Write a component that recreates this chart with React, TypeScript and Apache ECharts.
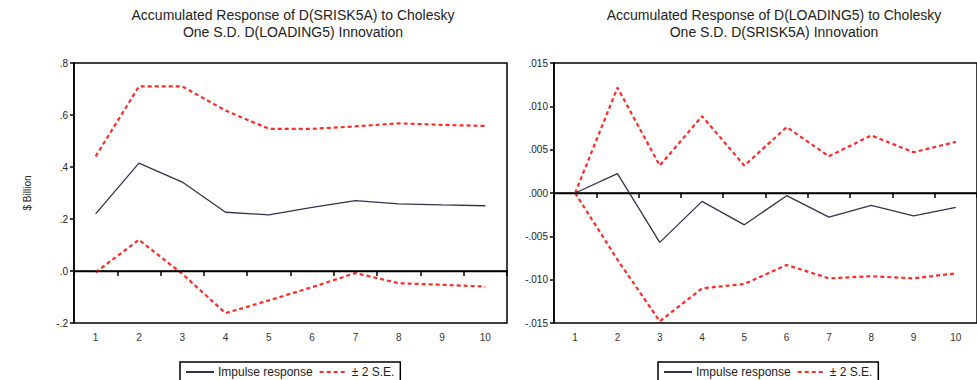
import React, { useEffect, useRef } from "react";
import * as echarts from "echarts";

const periods = ["1", "2", "3", "4", "5", "6", "7", "8", "9", "10"];

const leftImpulse = [0.22, 0.415, 0.342, 0.226, 0.216, 0.245, 0.271, 0.258, 0.254, 0.251];
const leftUpper = [0.441, 0.71, 0.71, 0.617, 0.547, 0.547, 0.556, 0.568, 0.562, 0.558];
const leftLower = [-0.005, 0.12, -0.011, -0.162, -0.113, -0.062, -0.008, -0.047, -0.053, -0.06];

const rightImpulse = [0, 0.00224, -0.0057, -0.00097, -0.00367, -0.00031, -0.00278, -0.00143, -0.00263, -0.00166];
const rightUpper = [0, 0.01216, 0.00316, 0.00887, 0.00316, 0.0076, 0.00424, 0.00664, 0.0047, 0.0059];
const rightLower = [0, -0.0077, -0.0148, -0.011, -0.0105, -0.0083, -0.00985, -0.0096, -0.00985, -0.00927];

const leftTitle = ["Accumulated Response of D(SRISK5A) to Cholesky", "One S.D. D(LOADING5) Innovation"];
const rightTitle = ["Accumulated Response of D(LOADING5) to Cholesky", "One S.D. D(SRISK5A) Innovation"];
const yAxisName = "$ Billion";
const impulseName = "Impulse response";
const seName = "± 2 S.E.";

const FONT = "'Liberation Sans', Arial, sans-serif";
const RED = "#ff2a2a";
const NAVY = "#33334d";

function fmt(v: number, d: number) {
  const s = v.toFixed(d);
  return s.replace(/^(-?)0\./, "$1.");
}

export default function App() {
  const ref = useRef<HTMLDivElement>(null);
  useEffect(() => {
    if (!ref.current) return;
    const chart = echarts.init(ref.current, null, { renderer: "svg" });
    const grids = [
      { left: 74, top: 63, width: 433, height: 260 },
      { left: 554, top: 63, width: 432, height: 260 },
    ];
    const xAxis = grids.map((_, i) => ({
      type: "category",
      gridIndex: i,
      data: periods,
      boundaryGap: true,
      axisLine: { lineStyle: { color: "#000", width: 1.5 } },
      axisTick: { show: true, length: 5, inside: false, lineStyle: { color: "#000", width: 1.5 } },
      axisLabel: { color: "#333", fontSize: 10, fontFamily: FONT, margin: 9 },
      splitLine: { show: false },
    }));
    const yAxis = [
      {
        type: "value",
        gridIndex: 0,
        min: -0.2,
        max: 0.8,
        interval: 0.2,
        name: yAxisName,
        nameLocation: "middle",
        nameRotate: 90,
        nameGap: 42,
        nameTextStyle: { fontSize: 10, fontFamily: FONT, color: "#222" },
        axisLine: { show: true, lineStyle: { color: "#000", width: 1.5 } },
        axisTick: { show: true, length: 4, lineStyle: { color: "#000", width: 1.5 } },
        axisLabel: { color: "#222", fontSize: 10, fontFamily: FONT, margin: 6, formatter: (v: number) => fmt(v, 1) },
        splitLine: { show: false },
      },
      {
        type: "value",
        gridIndex: 1,
        min: -0.015,
        max: 0.015,
        interval: 0.005,
        axisLine: { show: true, lineStyle: { color: "#000", width: 1.5 } },
        axisTick: { show: true, length: 4, lineStyle: { color: "#000", width: 1.5 } },
        axisLabel: { color: "#222", fontSize: 10, fontFamily: FONT, margin: 6, formatter: (v: number) => fmt(v, 3) },
        splitLine: { show: false },
      },
    ];
    const zeroLine = {
      silent: true,
      symbol: "none",
      label: { show: false },
      lineStyle: { color: "#000", type: "solid", width: 1.3 },
      data: [{ yAxis: 0 }],
    };
    const mk = (name: string, data: number[], idx: number, dashed: boolean, withZero = false) => ({
      type: "line",
      name,
      xAxisIndex: idx,
      yAxisIndex: idx,
      data,
      symbol: "none",
      z: dashed ? 3 : 4,
      lineStyle: dashed
        ? { color: RED, width: 2.2, type: [4, 3] }
        : { color: NAVY, width: 1.3, type: "solid" },
      itemStyle: { color: dashed ? RED : NAVY },
      markLine: withZero ? zeroLine : undefined,
    });
    const legendBase = {
      top: 362,
      orient: "horizontal",
      data: [impulseName, seName],
      itemWidth: 28,
      itemHeight: 10,
      itemGap: 6,
      padding: [4, 6, 4, 5],
      borderColor: "#000",
      borderWidth: 1.5,
      borderRadius: 0,
      itemStyle: { opacity: 0 },
      textStyle: { fontSize: 12, fontFamily: FONT, color: "#222", padding: [0, 0, 0, -1] },
    };
    const titleText = (lines: string[], x: number) =>
      lines.map((t, j) => ({
        type: "text",
        x,
        y: 8 + j * 17,
        style: { text: t, fill: "#222", font: `14px ${FONT}`, textAlign: "center", textVerticalAlign: "top" },
      }));
    chart.setOption({
      animation: false,
      backgroundColor: "#fff",
      grid: grids.map((g) => ({ ...g, show: true, borderColor: "#000", borderWidth: 1.5, backgroundColor: "transparent" })),
      xAxis,
      yAxis,
      legend: [
        { ...legendBase, left: 180 },
        { ...legendBase, left: 658 },
      ],
      graphic: [...titleText(leftTitle, 293), ...titleText(rightTitle, 774)],
      series: [
        mk(impulseName, leftImpulse, 0, false, true),
        mk(seName, leftUpper, 0, true),
        mk(seName, leftLower, 0, true),
        mk(impulseName, rightImpulse, 1, false, true),
        mk(seName, rightUpper, 1, true),
        mk(seName, rightLower, 1, true),
      ],
    });
    return () => chart.dispose();
  }, []);
  return (
    <div
      ref={ref}
      style={{ position: "fixed", left: 0, top: 0, width: 977, height: 380, background: "#fff" }}
    />
  );
}
